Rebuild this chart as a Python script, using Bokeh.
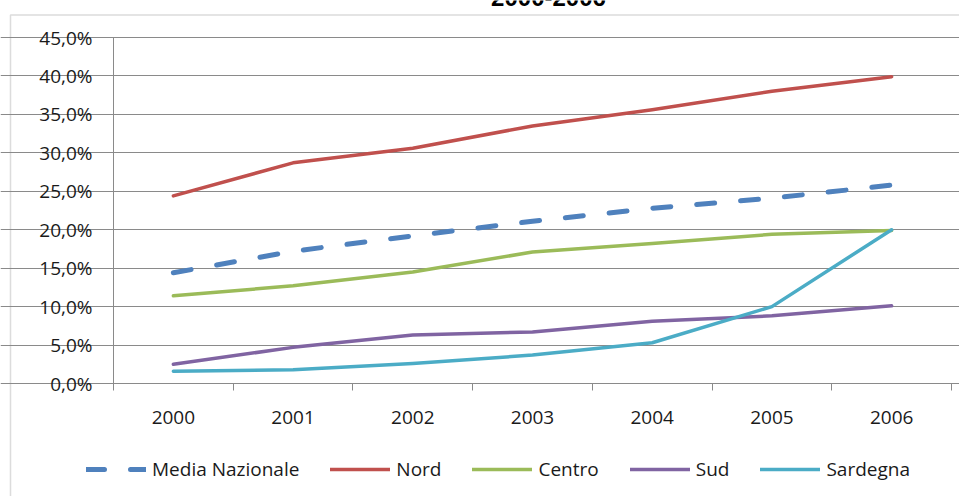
from bokeh.plotting import figure
from bokeh.models import FixedTicker, Legend, LegendItem, Label, BoxAnnotation
from bokeh.embed import file_html
from bokeh.resources import INLINE

years = [2000, 2001, 2002, 2003, 2004, 2005, 2006]
media_nazionale = [14.4, 17.2, 19.2, 21.1, 22.8, 24.1, 25.8]
nord = [24.4, 28.7, 30.6, 33.5, 35.6, 38.0, 39.9]
centro = [11.4, 12.7, 14.5, 17.1, 18.2, 19.4, 19.9]
sud = [2.5, 4.7, 6.3, 6.7, 8.1, 8.8, 10.1]
sardegna = [1.6, 1.8, 2.6, 3.7, 5.3, 10.0, 20.0]
y_ticks = [0, 5, 10, 15, 20, 25, 30, 35, 40, 45]
y_tick_labels = ["0,0%", "5,0%", "10,0%", "15,0%", "20,0%", "25,0%",
                 "30,0%", "35,0%", "40,0%", "45,0%"]
title_text = "2000-2006"

FONT = "Open Sans"
GRID = "#8a8a8a"
TXT = "#1a1a1a"

# canvas geometry (pixels) of the plotting area inside the full-canvas frame
W, H = 959, 496
AREA_L, AREA_R, AREA_T, AREA_B = 113, 951, 37, 383
x_lo, x_hi = years[0] - 0.5, years[-1] + 0.5
y_lo, y_hi = y_ticks[0], y_ticks[-1]
ppx = (AREA_R - AREA_L) / (x_hi - x_lo)
ppy = (AREA_B - AREA_T) / (y_hi - y_lo)
x_range = (x_lo - AREA_L / ppx, x_hi + (W - AREA_R) / ppx)
y_range = (y_lo - (H - AREA_B) / ppy, y_hi + AREA_T / ppy)

p = figure(width=W, height=H, output_backend="svg", toolbar_location=None,
           x_range=x_range, y_range=y_range,
           min_border=0, min_border_left=0, min_border_right=0,
           min_border_top=0, min_border_bottom=0)
p.title.visible = False
p.outline_line_color = None
p.background_fill_color = "white"
p.border_fill_color = "white"

# x axis inside the frame at y = 0: labels at centres, ticks at boundaries
xa = p.xaxis[0]
boundaries = [y - 0.5 for y in years] + [years[-1] + 0.5]
xa.fixed_location = 0
xa.bounds = (x_lo, x_hi)
xa.ticker = FixedTicker(ticks=years, minor_ticks=boundaries)
xa.major_label_overrides = {y: str(y) for y in years}
xa.major_tick_out = 0
xa.major_tick_in = 0
xa.minor_tick_out = 7
xa.minor_tick_in = 0
xa.minor_tick_line_color = GRID
xa.axis_line_color = GRID
xa.major_label_standoff = 20
xa.major_label_text_font = FONT
xa.major_label_text_font_size = "19px"
xa.major_label_text_color = TXT

ya = p.yaxis[0]
ya.fixed_location = x_lo
ya.bounds = (y_lo, y_hi)
ya.ticker = FixedTicker(ticks=y_ticks, minor_ticks=[])
ya.major_label_overrides = {t: l for t, l in zip(y_ticks, y_tick_labels)}
ya.major_tick_out = 8
ya.major_tick_in = 0
ya.major_tick_line_color = GRID
ya.axis_line_color = GRID
ya.major_label_standoff = 13
ya.major_label_text_font = FONT
ya.major_label_text_font_size = "19px"
ya.major_label_text_color = TXT

p.xgrid.grid_line_color = None
p.ygrid.ticker = FixedTicker(ticks=y_ticks)
p.ygrid.bounds = (x_lo, x_hi)
p.ygrid.grid_line_color = GRID
p.ygrid.grid_line_width = 1

r_media = p.line(years, media_nazionale, line_color="#4F81BD", line_width=5,
                 line_dash="18 26", line_cap="round", line_join="round")
r_nord = p.line(years, nord, line_color="#C0504D", line_width=3.5,
                line_join="round", line_cap="round")
r_centro = p.line(years, centro, line_color="#9BBB59", line_width=3.5,
                  line_join="round", line_cap="round")
r_sud = p.line(years, sud, line_color="#8064A2", line_width=3.5,
               line_join="round", line_cap="round")
r_sard = p.line(years, sardegna, line_color="#4BACC6", line_width=3.5,
                line_join="round", line_cap="round")

legend = Legend(items=[
    LegendItem(label="Media Nazionale", renderers=[r_media]),
    LegendItem(label="Nord", renderers=[r_nord]),
    LegendItem(label="Centro", renderers=[r_centro]),
    LegendItem(label="Sud", renderers=[r_sud]),
    LegendItem(label="Sardegna", renderers=[r_sard]),
], orientation="horizontal", location=(86, 14),
    glyph_width=60, glyph_height=20, label_height=20, label_standoff=6,
    spacing=31, padding=0, margin=0,
    border_line_color=None, background_fill_alpha=0,
    label_text_font=FONT, label_text_font_size="19px",
    label_text_color=TXT)
p.add_layout(legend, "center")

border = BoxAnnotation(left=10, top=14.5, right=W + 20, bottom=H + 20,
                       left_units="canvas", top_units="canvas",
                       right_units="canvas", bottom_units="canvas",
                       fill_alpha=0, line_color="#8c8c8c", line_width=1.5,
                       level="underlay")
p.add_layout(border)

title = Label(x=548, y=H + 3, x_units="screen", y_units="screen", text=title_text,
              text_font="Liberation Sans", text_font_style="bold",
              text_font_size="24px", text_align="center",
              text_baseline="alphabetic", text_color="#000000")
p.add_layout(title)

open("out.html", "w").write(file_html(p, INLINE))
